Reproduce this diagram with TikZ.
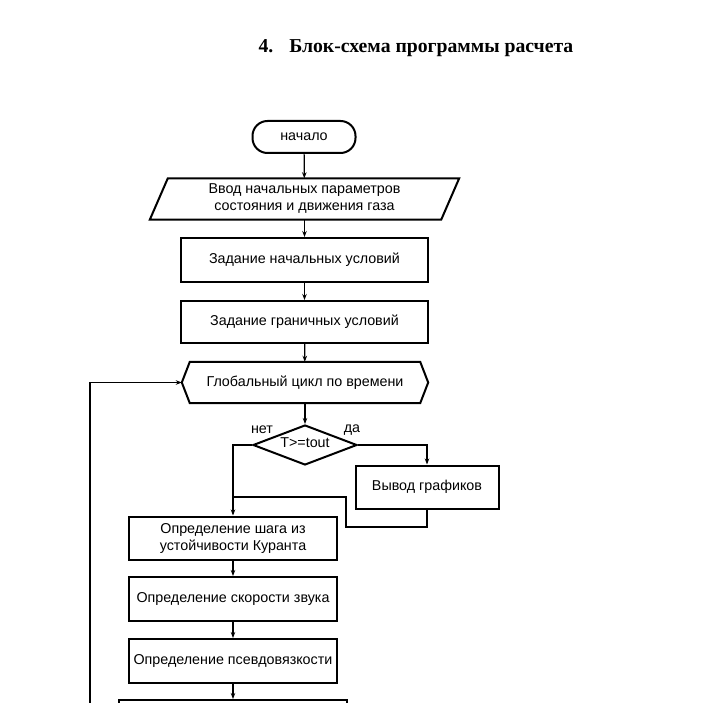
\documentclass[tikz,border=0pt]{standalone}
\usepackage{fontspec}
\setmainfont{Liberation Sans}
\newfontfamily\titlefont{Liberation Serif}
\usetikzlibrary{shapes.geometric,arrows.meta,calc}
\begin{document}
\begin{tikzpicture}[x=1pt,y=-1pt,
  txt/.style={font=\fontsize{14.3}{17}\selectfont},
  box/.style={txt,draw,line width=2pt,align=center,inner sep=0pt},
  ghost/.style={txt,align=center,inner sep=0pt},
  outline/.style={line width=2pt,line join=miter},
  flow/.style={line width=1.2pt,-{Stealth[length=6pt,width=4.5pt]}},
  plain/.style={line width=1.2pt}]
\useasboundingbox (0,0) rectangle (712,703);
\clip (0,0) rectangle (712,703);

\node[font=\titlefont\bfseries\fontsize{19.7}{24}\selectfont,anchor=west] (title) at (255,48) {4.\hspace{16pt}Блок-схема программы расчета};

\node[box,rounded corners=15pt,minimum width=103pt,minimum height=32pt] (start) at (304,137) {начало};

\node[ghost,minimum width=291pt,minimum height=41pt] (input) at (304.5,199) {Ввод начальных параметров\\состояния и движения газа};
\draw[outline] ($(input.north west)+(9,0)$) -- ($(input.north east)+(9,0)$) -- ($(input.south east)+(-9,0)$) -- ($(input.south west)+(-9,0)$) -- cycle;

\node[box,minimum width=247pt,minimum height=44pt] (init) at (304.5,260) {Задание начальных условий};
\node[box,minimum width=247pt,minimum height=42pt] (bound) at (304.5,322) {Задание граничных условий};

\node[ghost,minimum width=230pt,minimum height=41pt] (cyc) at (305,382.5) {Глобальный цикл по времени};
\coordinate (cycW) at ($(cyc.west)+(-8,0)$);
\coordinate (cycE) at ($(cyc.east)+(8,0)$);
\draw[outline] (cyc.north west) -- (cyc.north east) -- (cycE) -- (cyc.south east) -- (cyc.south west) -- (cycW) -- cycle;

\node[diamond,draw,line width=2pt,inner sep=0pt,aspect=2.6,minimum width=104pt,minimum height=40pt,txt] (cond) at (305,445) {};
\node[txt] (condtxt) at (305,443) {T>=tout};
\node[txt] (no) at (262,430) {нет};
\node[txt] (yes) at (352,430) {да};

\node[box,minimum width=143pt,minimum height=43pt] (plot) at (427,487) {Вывод графиков};

\node[box,minimum width=208pt,minimum height=43pt] (dt) at (233,538) {Определение шага из\\устойчивости Куранта};
\node[box,minimum width=208pt,minimum height=44pt] (snd) at (233,599) {Определение скорости звука};
\node[box,minimum width=208pt,minimum height=44pt] (visc) at (233,661) {Определение псевдовязкости};
\node[box,minimum width=228pt,minimum height=60pt] (next) at (233,730) {};

\coordinate (bend) at (346,527);
\coordinate (merge) at (233,497);
\coordinate (loopin) at (90,720);

\draw[flow] (start) -- (input);
\draw[flow] (input) -- (init);
\draw[flow] (init) -- (bound);
\draw[flow] (bound) -- (cyc);
\draw[flow] (cyc) -- (cond);
\draw[flow] (cond.west) -| (dt.north);
\draw[flow] (cond.east) -| (plot.north);
\draw[plain] (plot.south) |- (bend) |- (merge);
\draw[flow] (dt) -- (snd);
\draw[flow] (snd) -- (visc);
\draw[flow] (visc) -- (next);
\draw[flow] (loopin) |- (cycW);
\end{tikzpicture}
\end{document}
